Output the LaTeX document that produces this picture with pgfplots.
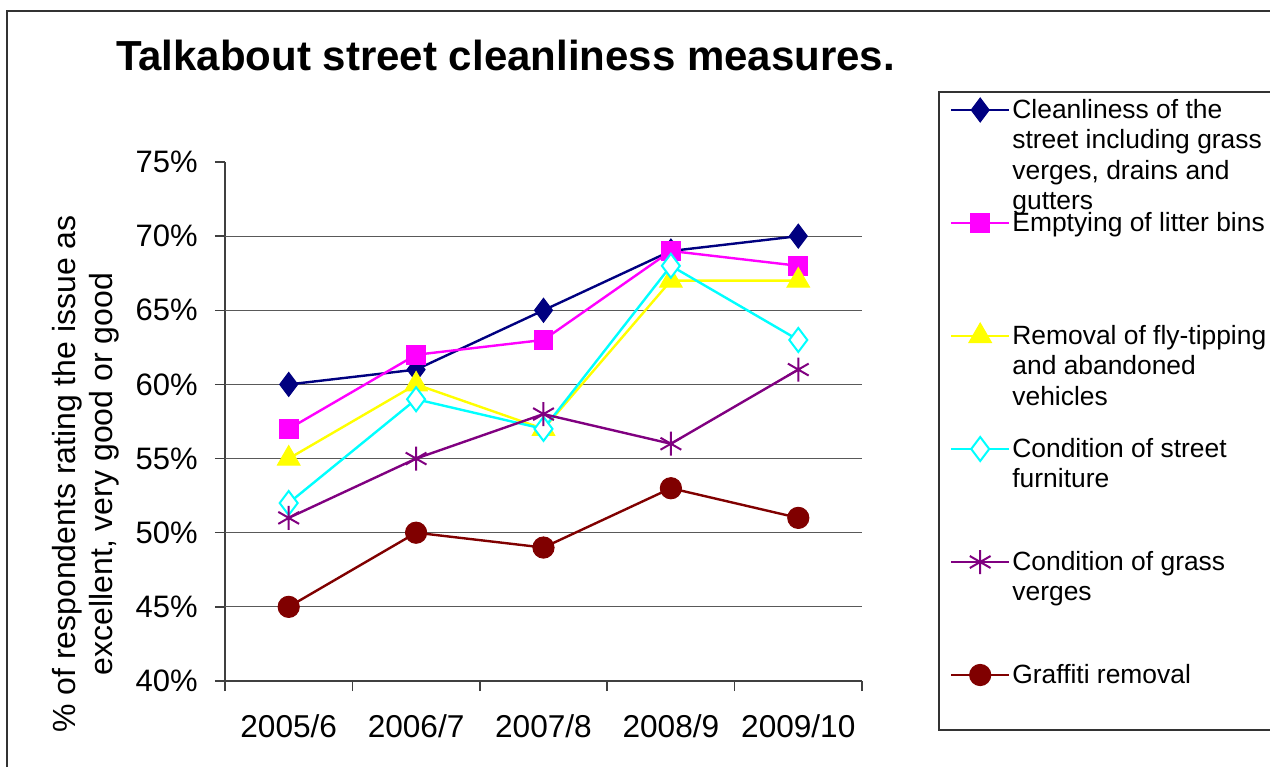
\documentclass[border=0pt]{standalone}
\usepackage{pgfplots}
\pgfplotsset{compat=1.18}
\usepackage{fontspec}
\setmainfont{Liberation Sans}
\definecolor{cnavy}{RGB}{0,0,128}
\definecolor{cmag}{RGB}{255,0,255}
\definecolor{cyel}{RGB}{255,255,0}
\definecolor{ccyan}{RGB}{0,255,255}
\definecolor{cpurp}{RGB}{128,0,128}
\definecolor{cdred}{RGB}{128,0,0}
\begin{document}
\begin{tikzpicture}
\useasboundingbox (0,0) rectangle (635pt,383.5pt);
\draw[black!80, line width=0.75pt] (3.5pt,0) -- (3.5pt,378pt) -- (640pt,378pt);
\draw[black!80, line width=0.75pt] (640pt,337.5pt) -- (469.5pt,337.5pt) -- (469.5pt,18.5pt) -- (640pt,18.5pt);
\node[anchor=base, font=\fontsize{21}{25}\selectfont\bfseries] at (252.75pt,348pt) {Talkabout street cleanliness measures.};
\begin{axis}[
  at={(112.5pt,43pt)}, anchor=south west, scale only axis,
  width=318.5pt, height=259.5pt,
  xmin=-0.5, xmax=4.5, ymin=40, ymax=75,
  axis lines=left, axis line style={-, black!75, line width=0.75pt},
  tick align=outside, major tick length=5pt,
  tick style={black!75, line width=0.75pt},
  xtick pos=bottom, ytick pos=left,
  xtick={-0.5,0.5,1.5,2.5,3.5,4.5}, xticklabels={},
  extra x ticks={0,1,2,3,4},
  extra x tick labels={2005/6,2006/7,2007/8,2008/9,2009/10},
  extra x tick style={major tick length=0pt},
  xticklabel style={font=\fontsize{15.8}{18}\selectfont, anchor=base, inner sep=0pt, yshift=-28pt},
  ytick={40,45,50,55,60,65,70,75},
  yticklabels={40\%,45\%,50\%,55\%,60\%,65\%,70\%,75\%},
  extra y ticks={45,50,55,60,65,70},
  extra y tick labels={},
  extra y tick style={grid=major, major tick length=0pt},
  major grid style={black!65, line width=0.6pt},
  yticklabel style={font=\fontsize{15.5}{18}\selectfont, anchor=east, inner sep=0pt, xshift=-8.5pt},
  ylabel={\% of respondents rating the issue as\\excellent, very good or good},
  ylabel style={align=center, font=\fontsize{16}{18.5}\selectfont, at={(axis description cs:-0.219,0.3988)}, anchor=center},
  legend cell align=left,
  legend style={draw=none, fill=none, at={(axis description cs:1.13815,1.20906)}, anchor=north west,
    inner sep=0pt, outer sep=0pt, column sep=1pt, row sep=0pt,
    nodes={inner sep=0pt, text height=32.25pt, text depth=24.25pt, font=\fontsize{13.2}{15.3}\selectfont}},
  legend image code/.code={\draw[mark repeat=2,mark phase=2,#1] plot coordinates {(0pt,0pt) (14.5pt,0pt) (29pt,0pt)};},
  every axis plot/.append style={line width=1.2pt},
  clip=false,
]
\addplot[cnavy, mark=diamond*, mark size=6pt, mark options={solid, fill=cnavy, line width=0.5pt}]
  coordinates {(0,60) (1,61) (2,65) (3,69) (4,70)};
\addlegendentry{\parbox[t]{140pt}{\raggedright Cleanliness of the\\street including grass\\verges, drains and\\gutters}}
\addplot[cmag, mark=square*, mark size=4.7pt, mark options={solid, fill=cmag, line width=0.5pt}]
  coordinates {(0,57) (1,62) (2,63) (3,69) (4,68)};
\addlegendentry{\parbox[t]{140pt}{\raggedright Emptying of litter bins}}
\addplot[cyel, mark=triangle*, mark size=6.5pt, mark options={solid, fill=cyel, line width=0.5pt}]
  coordinates {(0,55) (1,60) (2,57) (3,67) (4,67)};
\addlegendentry{\parbox[t]{140pt}{\raggedright Removal of fly-tipping\\and abandoned\\vehicles}}
\addplot[ccyan, mark=diamond*, mark size=6pt, mark options={solid, fill=white, line width=1pt}]
  coordinates {(0,52) (1,59) (2,57) (3,68) (4,63)};
\addlegendentry{\parbox[t]{140pt}{\raggedright Condition of street\\furniture}}
\addplot[cpurp, mark=asterisk, mark size=6pt, mark options={solid, line width=1pt}]
  coordinates {(0,51) (1,55) (2,58) (3,56) (4,61)};
\addlegendentry{\parbox[t]{140pt}{\raggedright Condition of grass\\verges}}
\addplot[cdred, mark=*, mark size=5.3pt, mark options={solid, fill=cdred, line width=0.5pt}]
  coordinates {(0,45) (1,50) (2,49) (3,53) (4,51)};
\addlegendentry{\parbox[t]{140pt}{\raggedright Graffiti removal}}
\end{axis}
\end{tikzpicture}
\end{document}
